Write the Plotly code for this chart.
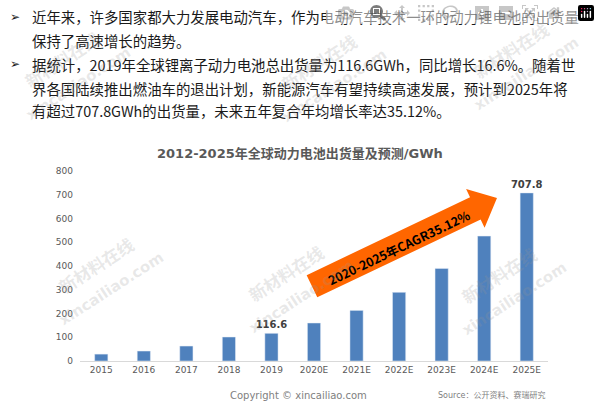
import math
import plotly.graph_objects as go

# Data (GWh)
years = ["2015", "2016", "2017", "2018", "2019", "2020E",
         "2021E", "2022E", "2023E", "2024E", "2025E"]
shipments = [29, 42, 63, 101, 116.6, 160, 213, 289, 390, 526, 707.8]
labelled = ["2019", "2025E"]

y_ticks = [0, 100, 200, 300, 400, 500, 600, 700, 800]

title_text = "2012-2025年全球动力电池出货量及预测/GWh"
arrow_text = "2020-2025年CAGR35.12%"
bullet_lines = [
    "近年来，许多国家都大力发展电动汽车，作为电动汽车技术一环的动力锂电池的出货量",
    "保持了高速增长的趋势。",
    "据统计，2019年全球锂离子动力电池总出货量为116.6GWh，同比增长16.6%。随着世",
    "界各国陆续推出燃油车的退出计划，新能源汽车有望持续高速发展，预计到2025年将",
    "有超过707.8GWh的出货量，未来五年复合年均增长率达35.12%。",
]
bullet_starts = [0, 2]

# page geometry (pixels)
W, H = 600, 402
L, R, T, B = 80, 52, 171, 41


def px(x):
    return (x - L) / (W - L - R)


def py(y):
    return (H - B - y) / (H - T - B)


def note(x, y, text, font, **kw):
    d = dict(x=px(x), y=py(y), xref="paper", yref="paper", showarrow=False,
             xanchor="center", yanchor="middle", text=text, font=font)
    d.update(kw)
    return d


CJK = "Noto Sans CJK SC"
LATIN = "DejaVu Sans, Noto Sans CJK SC"

fig = go.Figure()

fig.add_trace(go.Bar(
    x=years,
    y=shipments,
    marker_color="#4F81BD",
    text=[f"{v:g}" if c in labelled else "" for c, v in zip(years, shipments)],
    textposition="outside",
    constraintext="none",
    textfont=dict(family=LATIN, size=10, color="#404040", weight="bold"),
    cliponaxis=False,
    hovertemplate="%{x}: %{y}<extra></extra>",
))

annotations = []

# title
annotations.append(note(300, 153, f"<b>{title_text}</b>",
                        dict(family=LATIN, size=13, color="#595959")))

# text block above the chart
line_y = [17, 40, 64, 88, 111]
for i, (line, yy) in enumerate(zip(bullet_lines, line_y)):
    annotations.append(note(30, yy, line, dict(family=CJK, size=14.4, color="#1a1a1a"),
                            xanchor="left"))
    if i in bullet_starts:
        annotations.append(note(8, yy, "➢", dict(family="DejaVu Sans", size=12, color="#1a1a1a"),
                                xanchor="left"))

# orange CAGR arrow
tip = (497, 198)
ang = math.radians(25.5)
u = (math.cos(ang), -math.sin(ang))
n = (math.sin(ang), math.cos(ang))
total_len, head_len, head_half, body_half = 205, 24, 21.5, 12.3
base = (tip[0] - head_len * u[0], tip[1] - head_len * u[1])
tail = (tip[0] - total_len * u[0], tip[1] - total_len * u[1])
pts = [
    (tail[0] - body_half * n[0], tail[1] - body_half * n[1]),
    (base[0] - body_half * n[0], base[1] - body_half * n[1]),
    (base[0] - head_half * n[0], base[1] - head_half * n[1]),
    tip,
    (base[0] + head_half * n[0], base[1] + head_half * n[1]),
    (base[0] + body_half * n[0], base[1] + body_half * n[1]),
    (tail[0] + body_half * n[0], tail[1] + body_half * n[1]),
]
path = "M " + " L ".join(f"{px(a):.4f},{py(b):.4f}" for a, b in pts) + " Z"
fig.add_shape(type="path", path=path, xref="paper", yref="paper",
              fillcolor="#FF6600", line=dict(width=0), layer="above")

annotations.append(note(398, 247, f"<b>{arrow_text}</b>",
                        dict(family=CJK, size=12.5, color="#000000"), textangle=-25.5))

# watermarks
wm = "rgba(150,150,150,0.22)"
marks = [(62, 60), (318, 62), (510, 50), (95, 265), (285, 273), (498, 275)]
for mx, my in marks:
    annotations.append(note(mx, my, "<b>新材料在线</b>",
                            dict(family=CJK, size=17, color=wm), textangle=-33))
    annotations.append(note(mx + 16, my + 24, "<b>xincailiao.com</b>",
                            dict(family=LATIN, size=15, color=wm), textangle=-33))

# footer
annotations.append(note(298, 395, "Copyright © xincailiao.com",
                        dict(family=LATIN, size=10, color="#808080")))
annotations.append(note(491, 395, "Source：公开资料、赛瑞研究",
                        dict(family=LATIN, size=8, color="#808080")))

fig.update_layout(
    width=W, height=H,
    margin=dict(l=L, r=R, t=T, b=B),
    paper_bgcolor="white", plot_bgcolor="white",
    showlegend=False,
    bargap=0.69,
    annotations=annotations,
    xaxis=dict(
        type="category", showgrid=False, showline=True, linecolor="#d9d9d9",
        linewidth=1, ticks="", tickfont=dict(family=LATIN, size=9, color="#595959"),
    ),
    yaxis=dict(
        range=[0, 800], tickvals=y_ticks, showgrid=False, zeroline=False,
        showline=False, ticks="", ticklabelstandoff=6,
        tickfont=dict(family=LATIN, size=9, color="#595959"),
    ),
)

fig.write_html("out.html", post_script="document.body.style.margin='0';")
